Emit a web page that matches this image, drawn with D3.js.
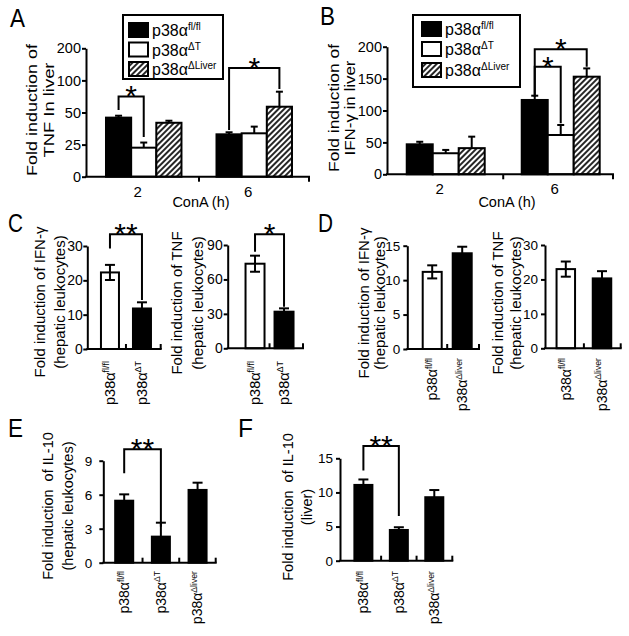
<!DOCTYPE html>
<html>
<head>
<meta charset="utf-8">
<script src="https://cdn.jsdelivr.net/npm/d3@7"></script>
<style>
  body { margin: 0; background: #fff; }
  svg { font-family: Arial, "Liberation Sans", sans-serif; }
</style>
</head>
<body>
<div id="chart"></div>
<script>
const W = 629, H = 636;

// A / B: fold induction in liver after ConA (rows = strains, cols = hours)
const conaHours = ["2", "6"];
const strainSup = ["fl/fl", "ΔT", "ΔLiver"];
const strainFill = ["black", "white", "hatch"];
const tnfLiver = [[46, 33], [22.6, 33.8], [42, 59]];
const tnfLiverErr = [[1.5, 1.6], [4, 5.2], [1.6, 23.4]];
const tnfTicks = [0, 25, 50, 100, 200];
const ifnLiver = [[47, 116.5], [33, 61.6], [41, 153]];
const ifnLiverErr = [[4, 6.7], [5.2, 15.7], [18, 13]];
const ifnTicks = [0, 50, 100, 150, 200];

// C: hepatic leukocytes, fl/fl vs ΔT
const cGroups = ["fl/fl", "ΔT"];
const cIfn = [22.3, 11.8];
const cIfnErr = [2.2, 1.8];
const cIfnTicks = [0, 10, 20, 30];
const cTnf = [73.7, 31.9];
const cTnfErr = [7, 2.9];
const cTnfTicks = [0, 30, 60, 90];

// D: hepatic leukocytes, fl/fl vs Δliver
const dGroups = ["fl/fl", "Δliver"];
const dIfn = [11.2, 13.9];
const dIfnErr = [0.95, 0.95];
const dIfnTicks = [0, 5, 10, 15];
const dTnf = [23, 20.3];
const dTnfErr = [2.2, 2.1];
const dTnfTicks = [0, 10, 20, 30];

// E / F: IL-10
const efGroups = ["fl/fl", "ΔT", "Δliver"];
const eIl10 = [5.47, 2.3, 6.42];
const eIl10Err = [0.56, 1.23, 0.64];
const eTicks = [0, 3, 6, 9];
const fIl10 = [11.1, 4.5, 9.3];
const fIl10Err = [0.8, 0.4, 1.05];
const fTicks = [0, 5, 10, 15];

// significance brackets, in data units
const aSig = [
  {group: "2", from: 0, to: 1, top: 75, fromEnd: 54, toEnd: 31, mark: "*"},
  {group: "6", from: 0, to: 2, top: 139, fromEnd: 36.4, toEnd: 86.6, mark: "*"}
];
const bSig = [
  {group: "6", from: 0, to: 2, top: 196, fromEnd: 121.6, toEnd: 168.7, mark: "*"},
  {group: "6", from: 0, to: 1, top: 168.7, fromEnd: 121.6, toEnd: 80, mark: "*"}
];
const cIfnSig = {from: 0, to: 1, top: 33.4, fromEnd: 29.3, toEnd: 14.3, mark: "**"};
const cTnfSig = {from: 0, to: 1, top: 99.3, fromEnd: 84.1, toEnd: 36.2, mark: "*"};
const eSig = {from: 0, to: 1, top: 10, fromEnd: 7.9, toEnd: 3.18, mark: "**"};
const fSig = {from: 0, to: 1, top: 16.8, fromEnd: 13.2, toEnd: 6.55, mark: "**"};

const svg = d3.select("#chart").append("svg")
    .attr("width", W)
    .attr("height", H);

const pat = svg.append("defs").append("pattern")
    .attr("id", "hatch")
    .attr("patternUnits", "userSpaceOnUse")
    .attr("width", 4).attr("height", 4)
    .attr("patternTransform", "rotate(45)");
pat.append("rect").attr("width", 4).attr("height", 4).attr("fill", "#fff");
pat.append("line").attr("x1", 2).attr("y1", 0).attr("x2", 2).attr("y2", 4)
    .attr("stroke", "#000").attr("stroke-width", 1.7);

const fillOf = k => k === "black" ? "#000" : k === "white" ? "#fff" : "url(#hatch)";

// ticks are drawn evenly spaced (panel A uses an uneven 0-25-50-100-200 axis)
function yScale(ticks, y0, yTop) {
    const step = (y0 - yTop) / (ticks.length - 1);
    return d3.scaleLinear().domain(ticks).range(ticks.map((t, i) => y0 - i * step));
}

function drawYAxis(y, ticks, x, fs, pad) {
    const ax = svg.append("g")
        .attr("transform", `translate(${x},0)`)
        .call(d3.axisLeft(y).tickValues(ticks).tickSize(4).tickSizeOuter(0).tickPadding(pad));
    ax.attr("font-family", null).attr("font-size", fs);
    ax.select(".domain").attr("stroke-width", 2);
    ax.selectAll(".tick line").attr("stroke-width", 2);
    ax.selectAll(".tick text").attr("fill", "#000");
}

function drawXAxis(x0, x1, y0, seps, dir) {
    svg.append("line").attr("x1", x0 - 1).attr("x2", x1).attr("y1", y0).attr("y2", y0)
        .attr("stroke", "#000").attr("stroke-width", 2);
    seps.concat([x1 - 1]).forEach(sx => {
        svg.append("line").attr("x1", sx).attr("x2", sx)
            .attr("y1", y0).attr("y2", y0 + dir * 5)
            .attr("stroke", "#000").attr("stroke-width", 2);
    });
}

function drawBar(x, w, y, v, e, fill, cap, twoSided) {
    svg.append("rect")
        .attr("x", x).attr("y", y(v))
        .attr("width", w).attr("height", y(0) - y(v))
        .attr("fill", fillOf(fill))
        .attr("stroke", "#000").attr("stroke-width", 2);
    const cx = x + w / 2;
    const ends = twoSided ? [v + e, v - e] : [v + e];
    ends.forEach(t => {
        svg.append("line").attr("x1", cx).attr("x2", cx).attr("y1", y(v)).attr("y2", y(t))
            .attr("stroke", "#000").attr("stroke-width", 2);
        svg.append("line").attr("x1", cx - cap / 2).attr("x2", cx + cap / 2).attr("y1", y(t)).attr("y2", y(t))
            .attr("stroke", "#000").attr("stroke-width", 2);
    });
}

function drawBracket(xa, xb, y, s) {
    svg.append("path")
        .attr("d", `M${xa},${y(s.fromEnd)}V${y(s.top)}H${xb}V${y(s.toEnd)}`)
        .attr("fill", "none").attr("stroke", "#000").attr("stroke-width", 2);
    svg.append("text")
        .attr("x", (xa + xb) / 2).attr("y", y(s.top) + 10)
        .attr("text-anchor", "middle").attr("font-size", 30)
        .text(s.mark);
}

function yLabel(lines, xs, yc, fs, lens) {
    lines.forEach((t, i) => {
        const tx = svg.append("text")
            .attr("transform", `translate(${xs[i]},${yc}) rotate(-90)`)
            .attr("text-anchor", "middle").attr("dy", "0.35em")
            .attr("font-size", fs).text(t);
        if (lens) tx.attr("textLength", lens[i]).attr("lengthAdjust", "spacingAndGlyphs");
    });
}

function catLabel(x, y, sup, anchor, fs) {
    const t = svg.append("text")
        .attr("transform", `translate(${x},${y}) rotate(-90)`)
        .attr("text-anchor", anchor).attr("font-size", fs);
    t.append("tspan").attr("dy", "0.35em").text("p38α");
    t.append("tspan").attr("dy", -fs * 0.4).attr("font-size", fs * 0.62).text(sup);
}

function panelLetter(ch, x, y) {
    svg.append("text").attr("x", x).attr("y", y)
        .attr("font-size", 26).attr("textLength", 15).attr("lengthAdjust", "spacingAndGlyphs")
        .text(ch);
}

function groupedPanel(o) {
    const y = yScale(o.ticks, o.y0, o.yTop);
    const x0 = d3.scaleBand().domain(conaHours).range([o.left, o.right])
        .paddingInner(o.pi).paddingOuter(o.po).align(o.align);
    const x1 = d3.scaleBand().domain(d3.range(strainSup.length)).range([0, x0.bandwidth()]);

    o.means.forEach((row, s) => {
        row.forEach((v, j) => {
            drawBar(x0(conaHours[j]) + x1(s), x1.bandwidth(), y, v, o.errs[s][j], strainFill[s], 7, false);
        });
    });

    const seps = conaHours.slice(1).map((h, i) =>
        (x0(conaHours[i]) + x0.bandwidth() + x0(h)) / 2);
    drawXAxis(o.left, o.right, o.y0, seps, 1);
    drawYAxis(y, o.ticks, o.left, 14.5, 1);

    conaHours.forEach(h => {
        svg.append("text").attr("x", x0(h) + x0.bandwidth() / 2 - 6).attr("y", o.y0 + 20)
            .attr("text-anchor", "middle").attr("font-size", 15).text(h);
    });
    svg.append("text").attr("x", o.conaX).attr("y", 207)
        .attr("text-anchor", "middle").attr("font-size", 14.5).text("ConA (h)");

    o.sig.forEach(s => {
        const xa = x0(s.group) + x1(s.from) + x1.bandwidth() / 2;
        const xb = x0(s.group) + x1(s.to) + x1.bandwidth() / 2;
        drawBracket(xa, xb, y, s);
    });

    // legend
    const lg = o.legend;
    svg.append("rect").attr("x", lg.x).attr("y", lg.y).attr("width", lg.w).attr("height", lg.h)
        .attr("fill", "#fff").attr("stroke", "#000").attr("stroke-width", 2);
    strainSup.forEach((sup, i) => {
        const cy = lg.rows[i];
        svg.append("rect").attr("x", lg.sx).attr("y", cy - 7).attr("width", 19).attr("height", 14)
            .attr("fill", fillOf(strainFill[i])).attr("stroke", "#000").attr("stroke-width", 2);
        const t = svg.append("text").attr("x", lg.sx + 23).attr("y", cy + 6).attr("font-size", 16);
        t.append("tspan").text("p38α");
        t.append("tspan").attr("dy", -6).attr("font-size", 10).text(sup);
    });

    yLabel(o.ylabel, o.ylabelX, o.ylabelY, 15, o.ylabelLen);
}

function simplePanel(o) {
    const y = yScale(o.ticks, o.y0, o.yTop);
    const x = d3.scaleBand().domain(d3.range(o.values.length)).range([o.left, o.right])
        .paddingInner(o.pi).paddingOuter(o.po).align(o.align);

    o.values.forEach((v, i) => {
        drawBar(x(i), x.bandwidth(), y, v, o.errs[i], o.fills[i], 10, o.fills[i] === "white");
    });

    const seps = o.values.slice(1).map((v, i) => (x(i) + x.bandwidth() + x(i + 1)) / 2);
    drawXAxis(o.left, o.right, o.y0, seps, -1);
    drawYAxis(y, o.ticks, o.left, o.tickFs, o.tickPad);

    o.cats.forEach((c, i) => catLabel(x(i) + x.bandwidth() / 2, o.catY, c, o.catAnchor, o.catFs));

    if (o.sig) {
        const s = o.sig;
        drawBracket(x(s.from) + x.bandwidth() / 2, x(s.to) + x.bandwidth() / 2, y, s);
    }
    yLabel(o.ylabel, o.ylabelX, o.ylabelY, o.labelFs);
}

// ---- A ----
panelLetter("A", 10, 27);
groupedPanel({
    left: 86, right: 310, y0: 176.7, yTop: 48.3, ticks: tnfTicks,
    means: tnfLiver, errs: tnfLiverErr, sig: aSig,
    pi: 0.317, po: 0.172, align: 0.526, conaX: 201,
    legend: {x: 123, y: 15, w: 100, h: 64, sx: 129, rows: [30, 49.5, 69]},
    ylabel: ["Fold induction of", "TNF In liver"], ylabelX: [32, 49], ylabelY: 110,
    ylabelLen: [132, 95]
});

// ---- B ----
panelLetter("B", 320, 25);
groupedPanel({
    left: 387, right: 614, y0: 174.3, yTop: 46.7, ticks: ifnTicks,
    means: ifnLiver, errs: ifnLiverErr, sig: bSig,
    pi: 0.322, po: 0.148, align: 0.58, conaX: 507,
    legend: {x: 413, y: 15, w: 107, h: 72, sx: 422, rows: [29, 49, 70]},
    ylabel: ["Fold induction of", "IFN-γ in liver"], ylabelX: [334, 350], ylabelY: 108,
    ylabelLen: [128, 95]
});

// ---- C ----
panelLetter("C", 8, 232);
simplePanel({
    left: 87.3, right: 161.7, y0: 349, yTop: 246, ticks: cIfnTicks,
    values: cIfn, errs: cIfnErr, fills: ["white", "black"], cats: cGroups, sig: cIfnSig,
    pi: 0.4375, po: 0.381, align: 0.56, tickFs: 14, tickPad: 0.5,
    catY: 405, catAnchor: "start", catFs: 14.5,
    ylabel: ["Fold induction of IFN-γ", "(hepatic leukocytes)"], ylabelX: [40, 60], ylabelY: 302, labelFs: 15
});
simplePanel({
    left: 227.7, right: 304, y0: 348.3, yTop: 245, ticks: cTnfTicks,
    values: cTnf, errs: cTnfErr, fills: ["white", "black"], cats: cGroups, sig: cTnfSig,
    pi: 0.345, po: 0.488, align: 0.63, tickFs: 14, tickPad: 1,
    catY: 405, catAnchor: "start", catFs: 14.5,
    ylabel: ["Fold induction of TNF", "(hepatic leukocytes)"], ylabelX: [177, 198], ylabelY: 303, labelFs: 15
});

// ---- D ----
panelLetter("D", 318, 232);
simplePanel({
    left: 407.3, right: 480, y0: 349, yTop: 245.7, ticks: dIfnTicks,
    values: dIfn, errs: dIfnErr, fills: ["white", "black"], cats: dGroups,
    pi: 0.367, po: 0.395, align: 0.65, tickFs: 13.5, tickPad: 3,
    catY: 358, catAnchor: "end", catFs: 14,
    ylabel: ["Fold induction of IFN-γ", "(hepatic leukocytes)"], ylabelX: [364, 380], ylabelY: 303, labelFs: 15
});
simplePanel({
    left: 545, right: 621.7, y0: 348.3, yTop: 245, ticks: dTnfTicks,
    values: dTnf, errs: dTnfErr, fills: ["white", "black"], cats: dGroups,
    pi: 0.489, po: 0.304, align: 0.525, tickFs: 13.5, tickPad: 3,
    catY: 358, catAnchor: "end", catFs: 14,
    ylabel: ["Fold induction of TNF", "(hepatic leukocytes)"], ylabelX: [498, 516], ylabelY: 303, labelFs: 15
});

// ---- E ----
panelLetter("E", 8, 437);
simplePanel({
    left: 103.3, right: 216.7, y0: 562.7, yTop: 460.7, ticks: eTicks,
    values: eIl10, errs: eIl10Err, fills: ["black", "black", "black"], cats: efGroups, sig: eSig,
    pi: 0.509, po: 0.30, align: 0.54, tickFs: 13.5, tickPad: 7,
    catY: 571, catAnchor: "end", catFs: 14,
    ylabel: ["Fold induction \u00a0of IL-10", "(hepatic leukocytes)"], ylabelX: [48, 68], ylabelY: 506, labelFs: 14.5
});

// ---- F ----
panelLetter("F", 238, 437);
simplePanel({
    left: 340, right: 453.3, y0: 560.7, yTop: 458.3, ticks: fTicks,
    values: fIl10, errs: fIl10Err, fills: ["black", "black", "black"], cats: efGroups, sig: fSig,
    pi: 0.492, po: 0.344, align: 0.59, tickFs: 13.5, tickPad: 3,
    catY: 571, catAnchor: "end", catFs: 14,
    ylabel: ["Fold induction \u00a0of IL-10", "(liver)"], ylabelX: [288, 307], ylabelY: 507, labelFs: 14.5
});
</script>
</body>
</html>
